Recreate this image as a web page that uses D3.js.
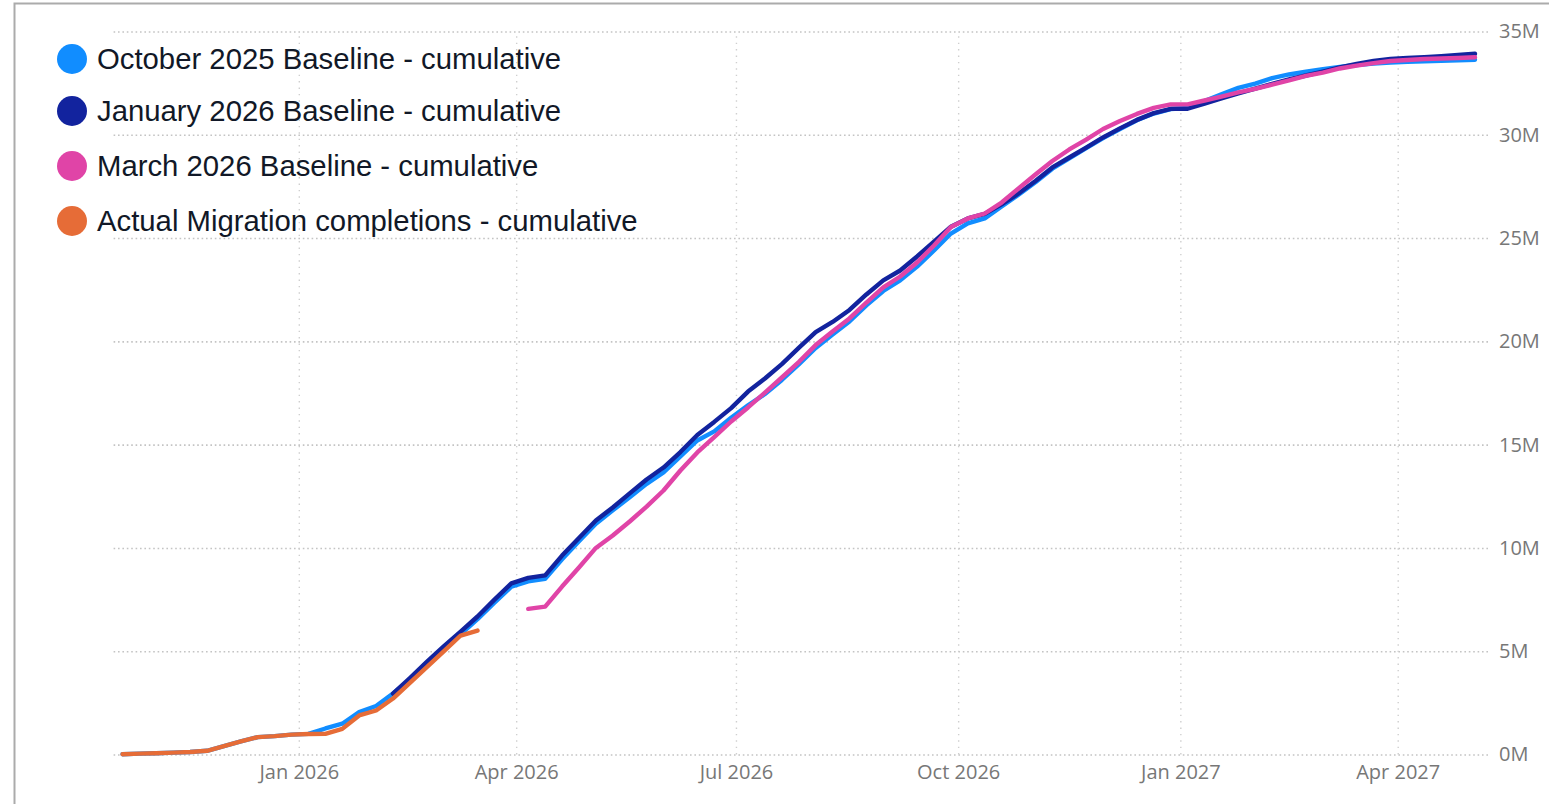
<!DOCTYPE html>
<html>
<head>
<meta charset="utf-8">
<script src="https://cdn.jsdelivr.net/npm/d3@7"></script>
<style>
  html, body { margin: 0; padding: 0; background: #ffffff; }
  svg { display: block; }
  .axis text { font-family: "Open Sans", "Segoe UI", sans-serif; font-size: 20px; fill: #777777; }
  .legend text { font-family: "Liberation Sans", Arial, sans-serif; font-size: 29.3px; fill: #111827; }
</style>
</head>
<body>
<svg id="chart" width="1549" height="804"></svg>
<script>
// ---- Data ----
const weeks = [
  "2025-10-20","2025-10-27","2025-11-03","2025-11-10","2025-11-17","2025-11-24","2025-12-01","2025-12-08","2025-12-15","2025-12-22","2025-12-29",
  "2026-01-05","2026-01-12","2026-01-19","2026-01-26","2026-02-02","2026-02-09","2026-02-16","2026-02-23","2026-03-02","2026-03-09","2026-03-16","2026-03-23","2026-03-30",
  "2026-04-06","2026-04-13","2026-04-20","2026-04-27","2026-05-04","2026-05-11","2026-05-18","2026-05-25","2026-06-01","2026-06-08","2026-06-15","2026-06-22","2026-06-29",
  "2026-07-06","2026-07-13","2026-07-20","2026-07-27","2026-08-03","2026-08-10","2026-08-17","2026-08-24","2026-08-31","2026-09-07","2026-09-14","2026-09-21","2026-09-28",
  "2026-10-05","2026-10-12","2026-10-19","2026-10-26","2026-11-02","2026-11-09","2026-11-16","2026-11-23","2026-11-30","2026-12-07","2026-12-14","2026-12-21","2026-12-28",
  "2027-01-04","2027-01-11","2027-01-18","2027-01-25","2027-02-01","2027-02-08","2027-02-15","2027-02-22","2027-03-01","2027-03-08","2027-03-15","2027-03-22","2027-03-29",
  "2027-04-05","2027-04-12","2027-04-19","2027-04-26","2027-05-03"
];

// values in millions
const oct2025Baseline = [
  0.01,0.04,0.06,0.09,0.12,0.18,0.41,0.63,0.84,0.89,0.96,
  1.00,1.26,1.49,2.05,2.35,2.95,3.62,4.38,5.12,5.82,6.55,7.35,8.12,
  8.38,8.50,9.45,10.32,11.17,11.82,12.45,13.10,13.65,14.43,15.20,15.64,16.30,
  16.90,17.45,18.13,18.88,19.68,20.33,20.96,21.74,22.44,22.95,23.62,24.40,25.22,
  25.71,25.95,26.53,27.10,27.70,28.36,28.86,29.35,29.84,30.28,30.70,31.03,31.24,
  31.30,31.64,31.96,32.27,32.48,32.74,32.92,33.06,33.18,33.28,33.38,33.45,33.50,
  33.53,33.56,33.58,33.61,33.63
];
const jan2026Baseline = [
  null,null,null,null,null,null,null,null,null,null,null,
  null,null,null,null,null,2.95,3.70,4.48,5.23,5.95,6.68,7.50,8.28,
  8.55,8.67,9.63,10.48,11.33,11.96,12.64,13.31,13.89,14.64,15.47,16.10,16.77,
  17.57,18.20,18.90,19.68,20.45,20.94,21.52,22.27,22.95,23.43,24.11,24.83,25.55,
  25.95,26.17,26.63,27.16,27.76,28.42,28.90,29.38,29.87,30.31,30.72,31.05,31.26,
  31.26,31.51,31.76,32.00,32.24,32.46,32.68,32.87,33.06,33.26,33.43,33.57,33.67,
  33.72,33.76,33.81,33.86,33.92
];
const mar2026Baseline = [
  null,null,null,null,null,null,null,null,null,null,null,
  null,null,null,null,null,null,null,null,null,null,null,null,null,
  7.05,7.16,8.13,9.05,10.00,10.60,11.28,12.00,12.78,13.75,14.62,15.36,16.12,
  16.80,17.52,18.25,19.00,19.82,20.48,21.11,21.88,22.61,23.14,23.82,24.64,25.54,
  25.95,26.19,26.72,27.40,28.08,28.73,29.29,29.77,30.28,30.67,31.01,31.30,31.47,
  31.47,31.66,31.85,32.05,32.22,32.43,32.63,32.85,33.01,33.21,33.35,33.47,33.57,
  33.62,33.67,33.69,33.72,33.75
];
const actualCompletions = [
  0.01,0.04,0.06,0.09,0.12,0.18,0.41,0.63,0.84,0.89,0.96,
  0.99,1.00,1.24,1.89,2.13,2.71,3.47,4.23,4.99,5.76,6.00,null,null,
  null,null,null,null,null,null,null,null,null,null,null,null,null,
  null,null,null,null,null,null,null,null,null,null,null,null,null,
  null,null,null,null,null,null,null,null,null,null,null,null,null,
  null,null,null,null,null,null,null,null,null,null,null,null,null,
  null,null,null,null,null
];

const seriesNames = [
  "October 2025 Baseline - cumulative",
  "January 2026 Baseline - cumulative",
  "March 2026 Baseline - cumulative",
  "Actual Migration completions - cumulative"
];
const seriesColors = ["#118DFF", "#12239E", "#E044A7", "#E66C37"];
const seriesValues = [oct2025Baseline, jan2026Baseline, mar2026Baseline, actualCompletions];

const yTickValues = [0, 5, 10, 15, 20, 25, 30, 35];
const xTickDates = ["2026-01-01","2026-04-01","2026-07-01","2026-10-01","2027-01-01","2027-04-01"];

// ---- Layout ----
const svg = d3.select("#chart");
const parse = d3.utcParse("%Y-%m-%d");
const dates = weeks.map(parse);

const gridLeft = 112, gridRight = 1488;
const yTop = 31.5, yBottom = 754.5;

const x = d3.scaleUtc()
  .domain([dates[0], dates[dates.length - 1]])
  .range([122.5, 1475]);
const y = d3.scaleLinear().domain([0, 35]).range([yBottom, yTop]);

// frame
svg.append("rect")
  .attr("x", 14.5).attr("y", 3.5).attr("width", 1600).attr("height", 900)
  .attr("fill", "none").attr("stroke", "#ababab").attr("stroke-width", 2);

// y axis (right) with horizontal dotted gridlines
const yAxis = svg.append("g")
  .attr("class", "axis y-axis")
  .attr("transform", `translate(${gridRight},0)`)
  .call(d3.axisRight(y)
    .tickValues(yTickValues)
    .tickSize(-(gridRight - gridLeft))
    .tickPadding(11)
    .tickFormat(d => d + "M"));
yAxis.select(".domain").remove();
yAxis.selectAll(".tick line")
  .attr("stroke", "#c4c4c4")
  .attr("stroke-width", 1.6)
  .attr("stroke-dasharray", "1.6,2.8");

// x axis with vertical dotted gridlines
const xAxis = svg.append("g")
  .attr("class", "axis x-axis")
  .attr("transform", `translate(0,${yBottom})`)
  .call(d3.axisBottom(x)
    .tickValues(xTickDates.map(parse))
    .tickSize(-(yBottom - yTop))
    .tickPadding(10)
    .tickFormat(d3.utcFormat("%b %Y")));
xAxis.select(".domain").remove();
xAxis.selectAll(".tick line")
  .attr("stroke", "#cfcfcf")
  .attr("stroke-width", 1.4)
  .attr("stroke-dasharray", "1.4,5");

// lines
const line = d3.line()
  .defined(d => d.v != null)
  .x(d => x(d.date))
  .y(d => y(d.v));

seriesValues.forEach((vals, i) => {
  const pts = vals.map((v, j) => ({ date: dates[j], v }));
  svg.append("path")
    .datum(pts)
    .attr("fill", "none")
    .attr("stroke", seriesColors[i])
    .attr("stroke-width", 4.4)
    .attr("stroke-linejoin", "round")
    .attr("stroke-linecap", "round")
    .attr("d", line);
});

// legend
const legendY = [59, 111, 166, 221];
const legend = svg.append("g").attr("class", "legend");
seriesNames.forEach((name, i) => {
  const g = legend.append("g").attr("transform", `translate(0,${legendY[i]})`);
  g.append("circle").attr("cx", 72).attr("cy", 0).attr("r", 15).attr("fill", seriesColors[i]);
  g.append("text").attr("x", 97).attr("y", 10.4).text(name);
});
</script>
</body>
</html>
